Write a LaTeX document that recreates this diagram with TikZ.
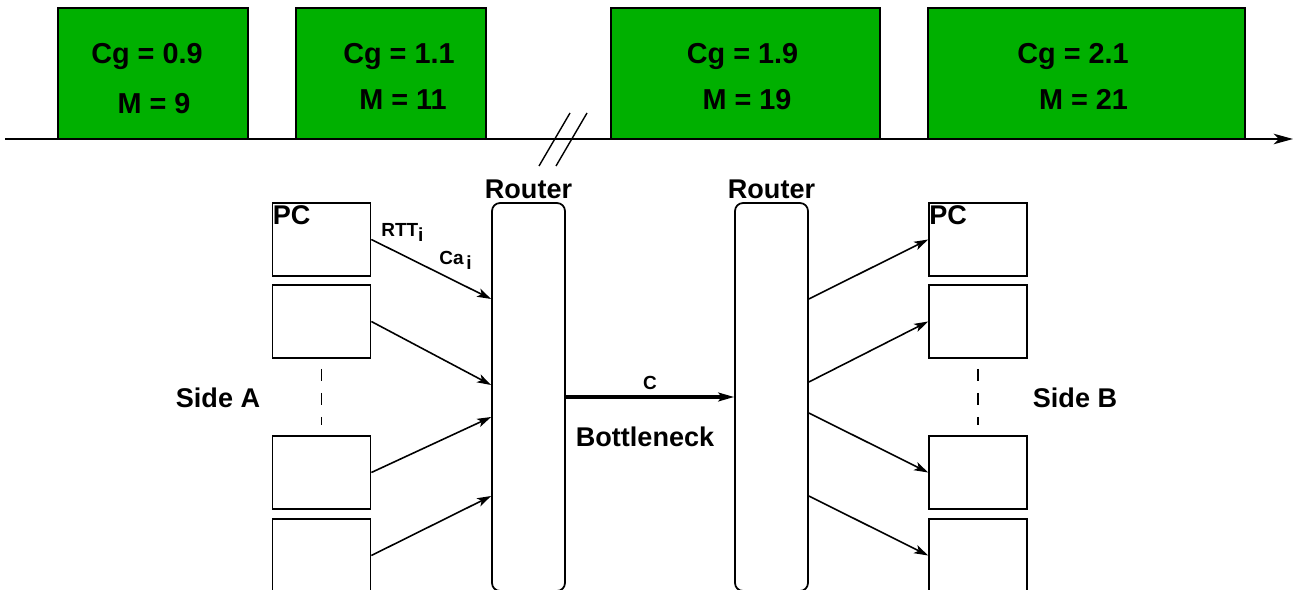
\documentclass[tikz,border=0pt]{standalone}
\usepackage{fontspec}
\setmainfont{Liberation Sans}
\usepackage{xcolor}
\usepackage{tikz}
\usetikzlibrary{arrows.meta,positioning,calc}

\definecolor{slotgreen}{RGB}{0,176,0}
\newcommand{\lowi}{\raisebox{-2.8pt}{i}}

\begin{document}
\begin{tikzpicture}[x=0.02cm, y=-0.02cm, >={Stealth[length=8pt,width=5pt,inset=2pt]},
    every node/.style={font=\bfseries\fontsize{15.4}{18}\selectfont}]

    % Styles for the slots, routers and hosts
    \tikzset{
        slotbox/.style={draw=black, fill=slotgreen, line width=1pt, minimum height=2.62cm, inner sep=0pt},
        slottext/.style={anchor=base, inner sep=0pt, font=\bfseries\fontsize{16.4}{19}\selectfont},
        routerbox/.style={draw=black, rounded corners=0.16cm, line width=1pt, minimum width=1.46cm, minimum height=7.76cm, inner sep=0pt},
        pcbox/.style={draw=black, line width=1pt, minimum width=1.96cm, minimum height=1.46cm, inner sep=0pt},
        link/.style={->, line width=0.9pt},
        smalllabel/.style={anchor=base west, inner sep=0pt, font=\bfseries\fontsize{10.8}{12}\selectfont},
        dots/.style={line width=0.9pt, dash pattern=on 0.24cm off 0.24cm}
    }

    \useasboundingbox (0,0) rectangle (1297,590);

    % Time slots on the time line
    \node[slotbox, minimum width=3.8cm] (slot1) at (153,73.5) {};
    \node[slotbox, minimum width=3.8cm] (slot2) at (391,73.5) {};
    \node[slotbox, minimum width=5.38cm] (slot3) at (745.5,73.5) {};
    \node[slotbox, minimum width=6.34cm] (slot4) at (1086.5,73.5) {};

    \node[slottext] (cg1) at (147,64) {Cg = 0.9};
    \node[slottext] (m1) at (154,114) {M = 9};
    \node[slottext] (cg2) at (399,64) {Cg = 1.1};
    \node[slottext] (m2) at (403,110) {M = 11};
    \node[slottext] (cg3) at (742.5,64) {Cg = 1.9};
    \node[slottext] (m3) at (747,110) {M = 19};
    \node[slottext] (cg4) at (1073,64) {Cg = 2.1};
    \node[slottext] (m4) at (1083.5,110) {M = 21};

    \coordinate (tstart) at (5,139);
    \coordinate (tend) at (1293,139);
    \draw[->, line width=1pt, >={Stealth[length=11pt,width=6pt,inset=3pt]}] (tstart) -- (tend);

    % break in the time line
    \draw[line width=0.8pt] (539,166) -- (570,113);
    \draw[line width=0.8pt] (556,166) -- (587,113);

    % Routers
    \node[routerbox] (rtA) at (528.5,397) {};
    \node[routerbox] (rtB) at (771.5,397) {};
    \node[anchor=base, inner sep=0pt] (lblA) at ($(rtA.north)+(0,-4)$) {Router};
    \node[anchor=base, inner sep=0pt] (lblB) at ($(rtB.north)+(0,-4)$) {Router};

    % Hosts on side A
    \node[pcbox] (pcA1) at (321.5,239.5) {};
    \node[pcbox] (pcA2) at (321.5,321.5) {};
    \node[pcbox] (pcA3) at (321.5,472.5) {};
    \node[pcbox] (pcA4) at (321.5,555.5) {};
    \node[anchor=north west, inner xsep=0.5pt, inner ysep=2pt] (pcA1lbl) at (pcA1.north west) {PC};

    % Hosts on side B
    \node[pcbox] (pcB1) at (978,239.5) {};
    \node[pcbox] (pcB2) at (978,321.5) {};
    \node[pcbox] (pcB3) at (978,472.5) {};
    \node[pcbox] (pcB4) at (978,555.5) {};
    \node[anchor=north west, inner xsep=0.5pt, inner ysep=2pt] (pcB1lbl) at (pcB1.north west) {PC};

    \draw[dots] ($(pcA2.south)+(0,10)$) -- ($(pcA3.north)+(0,-10)$);
    \draw[dots] ($(pcB2.south)+(0,10)$) -- ($(pcB3.north)+(0,-10)$);

    \node (sideA) at (218,398) {Side A};
    \node (sideB) at (1075,398) {Side B};

    % Access links into router A
    \draw[link] (pcA1.east) -- ($(rtA.west)+(0,-98)$);
    \draw[link] (pcA2.east) -- ($(rtA.west)+(0,-12)$);
    \draw[link] (pcA3.east) -- ($(rtA.west)+(0,20)$);
    \draw[link] (pcA4.east) -- ($(rtA.west)+(0,99)$);

    \node[smalllabel] (rttlbl) at (381,237) {RTT\lowi};
    \node[smalllabel] (calbl) at (439,265) {Ca\hspace{1.5pt}\lowi};

    % Bottleneck link
    \draw[->, line width=1.8pt, >={Stealth[length=9pt,width=5pt,inset=2pt]}] (rtA.east) -- node[above, font=\bfseries\fontsize{10.8}{12}\selectfont] (clbl) {C} (rtB.west);
    \node (bneck) at (645,437) {Bottleneck};

    % Links out of router B
    \draw[link] ($(rtB.east)+(0,-98)$) -- (pcB1.west);
    \draw[link] ($(rtB.east)+(0,-15)$) -- (pcB2.west);
    \draw[link] ($(rtB.east)+(0,16)$) -- (pcB3.west);
    \draw[link] ($(rtB.east)+(0,99)$) -- (pcB4.west);

\end{tikzpicture}
\end{document}
